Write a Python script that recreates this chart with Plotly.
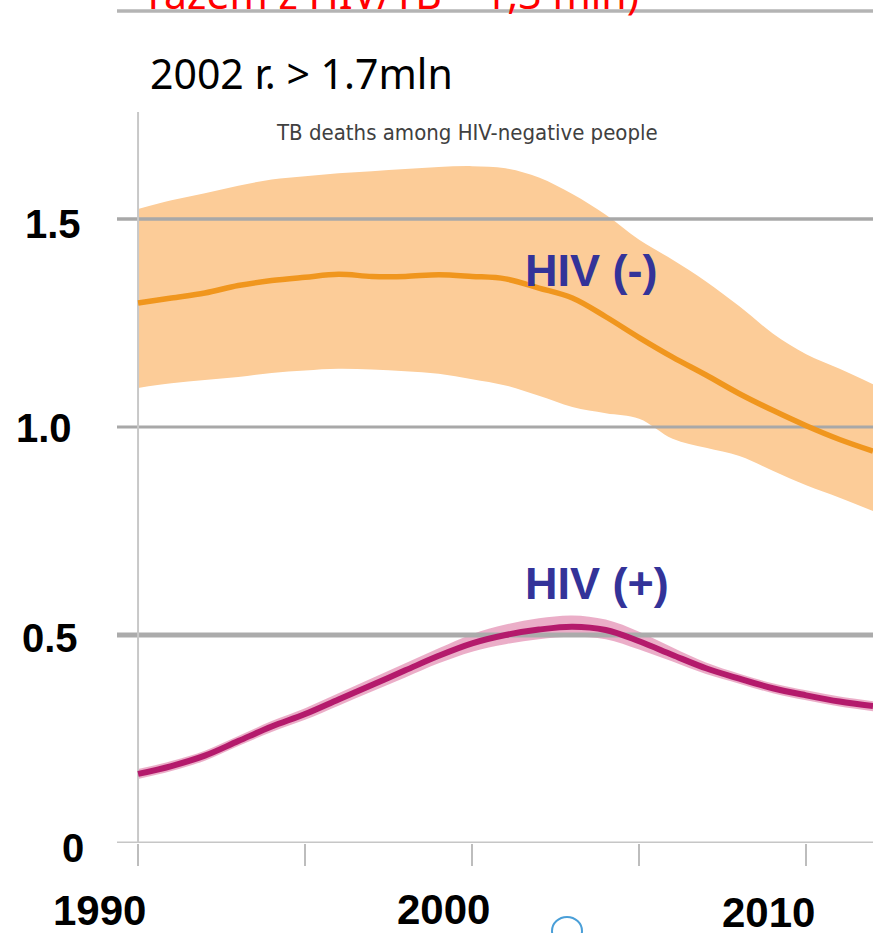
import plotly.graph_objects as go

# ---------------- data ----------------
years = list(range(1990, 2013))
hiv_neg = [1.298, 1.31, 1.322, 1.34, 1.352, 1.36, 1.367, 1.362, 1.362, 1.366, 1.362, 1.356,
           1.334, 1.31, 1.265, 1.215, 1.168, 1.125, 1.08, 1.04, 1.003, 0.97, 0.942]
hiv_neg_hi = [1.524, 1.545, 1.562, 1.58, 1.595, 1.603, 1.61, 1.615, 1.62, 1.625, 1.627, 1.622,
              1.6, 1.56, 1.51, 1.45, 1.402, 1.35, 1.29, 1.225, 1.175, 1.14, 1.103]
hiv_neg_lo = [1.094, 1.105, 1.113, 1.12, 1.13, 1.136, 1.14, 1.138, 1.134, 1.128, 1.115, 1.1,
              1.075, 1.048, 1.033, 1.02, 0.972, 0.95, 0.93, 0.895, 0.86, 0.83, 0.798]
hiv_pos = [0.166, 0.185, 0.21, 0.245, 0.28, 0.31, 0.345, 0.38, 0.415, 0.45, 0.48, 0.5,
           0.513, 0.52, 0.512, 0.485, 0.452, 0.42, 0.395, 0.372, 0.355, 0.34, 0.329]
hiv_pos_hi = [0.178, 0.197, 0.222, 0.257, 0.293, 0.324, 0.36, 0.396, 0.432, 0.468, 0.502, 0.525,
              0.54, 0.547, 0.537, 0.508, 0.47, 0.434, 0.407, 0.384, 0.367, 0.352, 0.341]
hiv_pos_lo = [0.154, 0.173, 0.198, 0.233, 0.267, 0.296, 0.33, 0.364, 0.398, 0.432, 0.46, 0.478,
              0.49, 0.496, 0.49, 0.465, 0.436, 0.406, 0.383, 0.36, 0.343, 0.328, 0.317]

grid_values = [0.0, 0.5, 1.0, 1.5, 2.0]
y_tick_labels = ["0", "0.5", "1.0", "1.5"]
x_tick_years = [1990, 1995, 2000, 2005, 2010]
x_label_years = ["1990", "2000", "2010"]

# ---------------- layout geometry ----------------
W, H = 873, 933
ML, MR, MT, MB = 117, 0, 0, 90
PW, PH = W - ML - MR, H - MT - MB
X_RANGE = [1989.37, 2012.0]
Y_RANGE = [0.0, 2.0264]


def px(xp):
    return (xp - ML) / PW


def py(yp):
    return (H - MB - yp) / PH


fig = go.Figure()

# orange uncertainty band
fig.add_trace(go.Scatter(x=years, y=hiv_neg_hi, mode="lines", line=dict(width=0, shape="spline"),
                         hoverinfo="skip", showlegend=False))
fig.add_trace(go.Scatter(x=years, y=hiv_neg_lo, mode="lines", line=dict(width=0, shape="spline"),
                         fill="tonexty", fillcolor="#fccc98", hoverinfo="skip", showlegend=False))
# magenta band
fig.add_trace(go.Scatter(x=years, y=hiv_pos_hi, mode="lines", line=dict(width=0, shape="spline"),
                         hoverinfo="skip", showlegend=False))
fig.add_trace(go.Scatter(x=years, y=hiv_pos_lo, mode="lines", line=dict(width=0, shape="spline"),
                         fill="tonexty", fillcolor="rgba(232,160,190,0.85)", hoverinfo="skip",
                         showlegend=False))

# gridlines (between bands and lines)
grid_style = {0.0: ("#c6c6c6", 3), 0.5: ("#ababab", 5), 1.0: ("#a8a8a8", 3),
              1.5: ("#a8a8a8", 3.5), 2.0: ("#b4b4b4", 3.5)}
for gv in grid_values:
    c, w = grid_style[gv]
    fig.add_trace(go.Scatter(x=[X_RANGE[0], X_RANGE[1]], y=[gv, gv], mode="lines",
                             line=dict(color=c, width=w), hoverinfo="skip", showlegend=False))

# left axis line
fig.add_trace(go.Scatter(x=[1990, 1990], y=[0, 1.757], mode="lines",
                         line=dict(color="#c8c8c8", width=2), hoverinfo="skip", showlegend=False))

# central lines
fig.add_trace(go.Scatter(x=years, y=hiv_neg, mode="lines",
                         line=dict(color="#f0961e", width=5.5, shape="spline"), name="HIV (-)",
                         showlegend=False))
fig.add_trace(go.Scatter(x=years, y=hiv_pos, mode="lines",
                         line=dict(color="#b41a6c", width=6, shape="spline"), name="HIV (+)",
                         showlegend=False))

annotations = []
# y tick labels
ytl_pos = {"1.5": (53, 224), "1.0": (44, 428), "0.5": (50, 638), "0": (73, 848)}
for t in y_tick_labels:
    xx, yy = ytl_pos[t]
    annotations.append(dict(text=f"<b>{t}</b>", x=px(xx), y=py(yy), xref="paper", yref="paper",
                            xanchor="center", yanchor="middle", showarrow=False,
                            font=dict(family="Liberation Sans, Arial, sans-serif", size=40,
                                      color="#000000")))
# x labels
xtl_pos = {"1990": (99, 910), "2000": (443, 909), "2010": (768, 912)}
for t in x_label_years:
    xx, yy = xtl_pos[t]
    annotations.append(dict(text=f"<b>{t}</b>", x=px(xx), y=py(yy), xref="paper", yref="paper",
                            xanchor="center", yanchor="middle", showarrow=False,
                            font=dict(family="Liberation Sans, Arial, sans-serif", size=42,
                                      color="#000000")))
# series labels
annotations.append(dict(text="<b>HIV (-)</b>", x=px(591), y=py(270), xref="paper", yref="paper",
                        xanchor="center", yanchor="middle", showarrow=False,
                        font=dict(family="Liberation Sans, Arial, sans-serif", size=45,
                                  color="#333399")))
annotations.append(dict(text="<b>HIV (+)</b>", x=px(597), y=py(583), xref="paper", yref="paper",
                        xanchor="center", yanchor="middle", showarrow=False,
                        font=dict(family="Liberation Sans, Arial, sans-serif", size=45,
                                  color="#333399")))
# inner chart title
annotations.append(dict(text="TB deaths among HIV-negative people", x=px(467), y=py(132),
                        xref="paper", yref="paper", xanchor="center", yanchor="middle",
                        showarrow=False,
                        font=dict(family="Liberation Sans Narrow, DejaVu Sans Condensed, sans-serif",
                                  size=22, color="#404040")))
# slide texts
annotations.append(dict(text="2002 r. > 1.7mln", x=px(148), y=py(73), xref="paper", yref="paper",
                        xanchor="left", yanchor="middle", showarrow=False,
                        font=dict(family="Noto Sans, sans-serif", size=41, color="#000000")))
annotations.append(dict(text="razem z HIV/TB – 1,3 mln)", x=px(146), y=py(-7), xref="paper",
                        yref="paper", xanchor="left", yanchor="middle", showarrow=False,
                        font=dict(family="Noto Sans, sans-serif", size=41, color="#ff0000")))

fig.update_layout(
    width=W, height=H,
    margin=dict(l=ML, r=MR, t=MT, b=MB, pad=0),
    paper_bgcolor="white", plot_bgcolor="white",
    showlegend=False,
    annotations=annotations,
    xaxis=dict(range=X_RANGE, showgrid=False, zeroline=False, showline=False,
               tickmode="array", tickvals=x_tick_years, ticks="outside", ticklen=22,
               tickwidth=2, tickcolor="#bdbdbd", showticklabels=False, fixedrange=True),
    yaxis=dict(range=Y_RANGE, showgrid=False, zeroline=False, showline=False,
               showticklabels=False, ticks="", fixedrange=True),
    shapes=[dict(type="circle", xref="paper", yref="paper", x0=px(552), x1=px(582),
                 y0=py(945), y1=py(917), line=dict(color="#4a9fd8", width=2))],
)

fig.write_html("out.html", config={"displayModeBar": False},
               post_script="document.body.style.margin='0';document.body.style.overflow='hidden';")
